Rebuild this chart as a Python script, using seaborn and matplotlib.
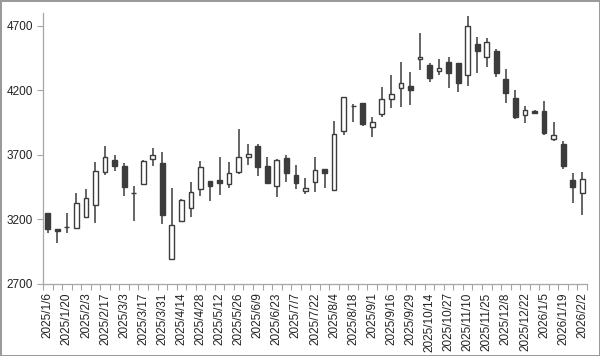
import matplotlib
matplotlib.use("Agg")
import matplotlib.pyplot as plt
import numpy as np
import seaborn as sns

# ----------------------------------------------------------
# Weekly OHLC data
# ----------------------------------------------------------

weeks = [
    "2025/1/6", "2025/1/14", "2025/1/20", "2025/1/27", "2025/2/3", "2025/2/10",
    "2025/2/17", "2025/2/25", "2025/3/3", "2025/3/10", "2025/3/17", "2025/3/24",
    "2025/3/31", "2025/4/7", "2025/4/14", "2025/4/21", "2025/4/28", "2025/5/7",
    "2025/5/12", "2025/5/19", "2025/5/26", "2025/6/2", "2025/6/9", "2025/6/16",
    "2025/6/23", "2025/6/30", "2025/7/7", "2025/7/14", "2025/7/22", "2025/7/28",
    "2025/8/4", "2025/8/12", "2025/8/18", "2025/8/25", "2025/9/1", "2025/9/8",
    "2025/9/16", "2025/9/22", "2025/9/29", "2025/10/6", "2025/10/14", "2025/10/20",
    "2025/10/27", "2025/11/4", "2025/11/10", "2025/11/17", "2025/11/25", "2025/12/1",
    "2025/12/8", "2025/12/15", "2025/12/22", "2025/12/29", "2026/1/5", "2026/1/13",
    "2026/1/19", "2026/1/26", "2026/2/2",
]

open_ = [
    3248, 3129, 3139, 3137, 3217, 3310, 3571, 3661, 3615, 3408, 3478, 3666,
    3635, 2896, 3188, 3287, 3439, 3498, 3506, 3478, 3571, 3682, 3770, 3615,
    3460, 3679, 3545, 3424, 3488, 3589, 3429, 3889, 4080, 4100, 3920, 4015,
    4134, 4222, 4232, 4444, 4398, 4351, 4424, 4411, 4320, 4560, 4462, 4506,
    4287, 4139, 4013, 4041, 4044, 3827, 3785, 3506, 3403,
]
high = [
    3248, 3129, 3253, 3408, 3436, 3643, 3772, 3703, 3635, 3460, 3664, 3757,
    3726, 3442, 3361, 3491, 3651, 3498, 3687, 3648, 3899, 3783, 3783, 3682,
    3666, 3697, 3623, 3519, 3687, 3589, 3966, 4147, 4095, 4100, 3997, 4230,
    4320, 4424, 4346, 4648, 4411, 4442, 4457, 4411, 4778, 4617, 4604, 4519,
    4364, 4204, 4080, 4049, 4121, 3956, 3811, 3558, 3571,
]
low = [
    3093, 3015, 3093, 3130, 3210, 3175, 3545, 3579, 3385, 3191, 3465, 3617,
    3162, 2886, 3183, 3217, 3382, 3341, 3390, 3442, 3550, 3625, 3540, 3485,
    3377, 3493, 3436, 3395, 3416, 3442, 3429, 3855, 3958, 3925, 3842, 3992,
    4062, 4075, 4088, 4359, 4268, 4320, 4217, 4191, 4235, 4333, 4385, 4307,
    4100, 3976, 3951, 4020, 3855, 3809, 3591, 3330, 3235,
]
close = [
    3124, 3108, 3139, 3325, 3364, 3579, 3684, 3612, 3449, 3408, 3656, 3703,
    3232, 3155, 3351, 3416, 3610, 3462, 3482, 3558, 3682, 3705, 3610, 3485,
    3661, 3563, 3482, 3447, 3580, 3558, 3860, 4147, 4080, 3940, 3953, 4137,
    4170, 4256, 4204, 4460, 4299, 4377, 4333, 4261, 4700, 4506, 4573, 4333,
    4183, 3992, 4049, 4023, 3873, 3855, 3615, 3455, 3513,
]

y_ticks = [2700, 3200, 3700, 4200, 4700]

# ----------------------------------------------------------
# Style
# ----------------------------------------------------------

sns.set_theme(style="white")
plt.rcParams["font.family"] = ["Liberation Sans", "DejaVu Sans"]

DARK   = "#3c3c3c"
AXIS   = "#a6a6a6"
TEXT   = "#222222"

fig = plt.figure(figsize=(6.0, 3.56), dpi=100)
fig.patch.set_edgecolor("#9a9a9a")
fig.patch.set_linewidth(2)
ax = fig.add_axes([43 / 600, 1 - 284 / 356, 544 / 600, 271 / 356])

x = np.arange(len(weeks))
o = np.array(open_)
c = np.array(close)

# wicks
ax.vlines(x, low, high, color=DARK, linewidth=1.1, zorder=2)

# bodies: white = up week, dark = down week
up = c >= o
ax.bar(x[up], (c - o)[up], bottom=o[up], width=0.5,
       color="white", edgecolor=DARK, linewidth=1.0, zorder=3)
ax.bar(x[~up], (o - c)[~up], bottom=c[~up], width=0.5,
       color=DARK, edgecolor=DARK, linewidth=1.0, zorder=3)

# ----------------------------------------------------------
# Axes
# ----------------------------------------------------------

ax.set_xlim(-0.5, len(weeks) - 0.5)
ax.set_ylim(2700, 4800)
ax.set_yticks(y_ticks)
ax.set_yticklabels([str(v) for v in y_ticks], fontsize=8.5, color=TEXT)

ax.set_xticks(x[::2])
ax.set_xticklabels(weeks[::2], rotation=90, fontsize=8.5, color=TEXT)
ax.set_xticks(np.arange(-0.5, len(weeks), 1.0), minor=True)
ax.tick_params(axis="x", which="major", length=0, pad=6)
ax.tick_params(axis="x", which="minor", length=4, width=0.8, color=AXIS,
               direction="out", bottom=True)
ax.tick_params(axis="y", which="major", length=4, width=0.8, color=AXIS,
               direction="out", left=True, pad=3)

sns.despine(ax=ax, top=True, right=True)
for side in ("left", "bottom"):
    ax.spines[side].set_color(AXIS)
    ax.spines[side].set_linewidth(0.9)

ax.grid(False)
ax.set_facecolor("white")

fig.savefig("out.png", dpi=100, facecolor="white", edgecolor=fig.get_edgecolor())
